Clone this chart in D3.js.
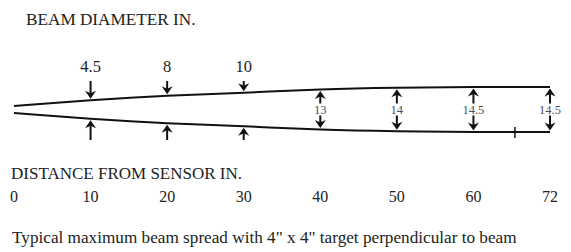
<!DOCTYPE html>
<html>
<head>
<meta charset="utf-8">
<script src="https://cdn.jsdelivr.net/npm/d3@7"></script>
<style>
  body { margin: 0; background: #fff; }
</style>
</head>
<body>
<svg></svg>
<script>
// beam spread diagram

var width = 571;
var height = 252;
var serif = '"Liberation Serif", "Times New Roman", Times, serif';

// distance from sensor (in.) and beam diameter (in.)
var distanceTicks = [0, 10, 20, 30, 40, 50, 60, 72];
var distances = [10, 20, 30, 40, 50, 60, 72];
var diameters = [4.5, 8, 10, 13, 14, 14.5, 14.5];
var diameterLabels = ["4.5", "8", "10", "13", "14", "14.5", "14.5"];
var insideFrom = 40; // from this distance the label sits inside the beam
var endMark = 66.5;

var beamData = [{ dist: 0, dia: 0 }].concat(distances.map((d, i) => ({ dist: d, dia: diameters[i], label: diameterLabels[i] })));
var pts = beamData.slice(1);

// even spacing per label, like the original drawing
var xScale = d3.scaleLinear()
                .domain(distanceTicks)
                .range(distanceTicks.map((d, i) => 14 + i * (550 - 14) / (distanceTicks.length - 1)));

var centerY = 109.5;
var halfScale = d3.scaleLinear()
                  .domain([0, 14.5])
                  .range([3.5, 22.5]);

var yTop = d => centerY - halfScale(d);
var yBot = d => centerY + halfScale(d);

var svg = d3.select('svg')
            .attr('width', width)
            .attr('height', height);

function label(txt, x, y, size, anchor) {
  return svg.append('text')
     .text(txt)
     .attr('x', x)
     .attr('y', y)
     .attr('text-anchor', anchor || 'start')
     .attr('font-family', serif)
     .attr('font-size', size)
     .attr('fill', '#222');
}

label('BEAM DIAMETER IN.', 26, 25, 17.2);

// beam edges, smoothed like the hand drawing
var topLine = d3.line().x(d => xScale(d.dist)).y(d => yTop(d.dia)).curve(d3.curveBasis);
var botLine = d3.line().x(d => xScale(d.dist)).y(d => yBot(d.dia)).curve(d3.curveBasis);

var topPath = svg.append('path')
   .attr('d', topLine(beamData))
   .attr('fill', 'none')
   .attr('stroke', '#111')
   .attr('stroke-width', 2);

var botPath = svg.append('path')
   .attr('d', botLine(beamData))
   .attr('fill', 'none')
   .attr('stroke', '#111')
   .attr('stroke-width', 2);

// y of a drawn edge at a given x
function yAt(path, x) {
  var node = path.node();
  var lo = 0, hi = node.getTotalLength();
  for (var k = 0; k < 30; k++) {
    var mid = (lo + hi) / 2;
    if (node.getPointAtLength(mid).x < x) lo = mid; else hi = mid;
  }
  return node.getPointAtLength((lo + hi) / 2).y;
}

// small mark on lower edge
var markY = yAt(botPath, xScale(endMark));
svg.append('line')
   .attr('x1', xScale(endMark)).attr('x2', xScale(endMark))
   .attr('y1', markY - 5).attr('y2', markY + 6)
   .attr('stroke', '#111')
   .attr('stroke-width', 1.5);

function arrow(g, x, tail, tip) {
  var dir = tip > tail ? 1 : -1;
  g.append('line')
   .attr('x1', x).attr('x2', x)
   .attr('y1', tail).attr('y2', tip - dir * 4)
   .attr('stroke', '#111')
   .attr('stroke-width', 2);
  g.append('path')
   .attr('d', `M${x},${tip} L${x - 5.5},${tip - dir * 8} L${x},${tip - dir * 5.5} L${x + 5.5},${tip - dir * 8} Z`)
   .attr('fill', '#111');
}

var marks = svg.selectAll('g.mark')
   .data(pts)
   .enter()
   .append('g')
   .attr('class', 'mark');

marks.each(function (d) {
  var g = d3.select(this);
  var x = xScale(d.dist);
  var t = yAt(topPath, x - 0.01);
  var b = yAt(botPath, x - 0.01);
  if (d.dist < insideFrom) {
    arrow(g, x, 81, t - 1.5);
    arrow(g, x, 140, b + 1.5);
    label(d.label, x, 71.5, 16.5, 'middle');
  } else {
    arrow(g, x, centerY - 6, t + 1.5);
    arrow(g, x, centerY + 6, b - 1.5);
    label(d.label, x, centerY + 4.5, 12.5, 'middle')
      .attr('fill', '#4a5066');
  }
});

label('DISTANCE FROM SENSOR IN.', 11, 178.5, 17);

svg.selectAll('text.tick')
   .data(distanceTicks)
   .enter()
   .append('text')
   .attr('class', 'tick')
   .text(d => d)
   .attr('x', d => xScale(d))
   .attr('y', 202)
   .attr('text-anchor', 'middle')
   .attr('font-family', serif)
   .attr('font-size', 16)
   .attr('fill', '#222');

label('Typical maximum beam spread with 4" x 4" target perpendicular to beam', 12, 243, 17.2);
</script>
</body>
</html>
